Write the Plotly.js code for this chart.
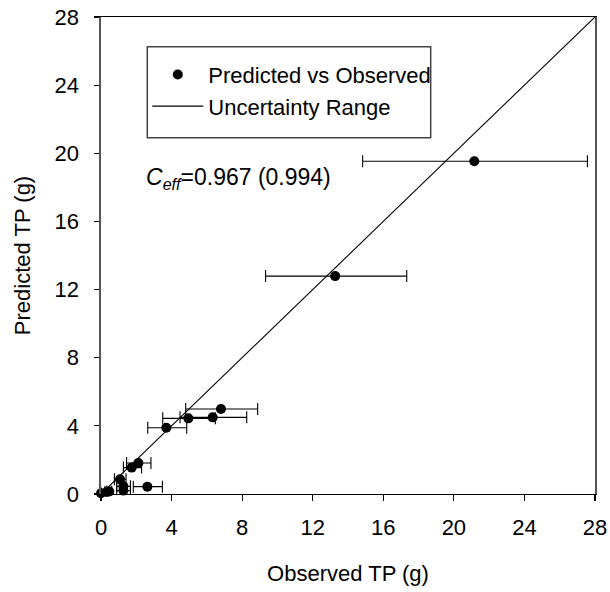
<!DOCTYPE html>
<html>
<head>
<meta charset="utf-8">
<script src="https://cdn.plot.ly/plotly-3.0.1.min.js"></script>
<style>html,body{margin:0;padding:0;background:#fff;}#chart{width:610px;height:592px;}</style>
</head>
<body>
<div id="chart"></div>
<script>
// Observed vs predicted total phosphorus (g)
const observedTP  = [21.16, 13.27, 6.80, 6.33, 4.95, 3.70, 2.12, 1.74, 1.08, 1.27, 1.27, 2.63, 0.00, 0.32, 0.47];
const predictedTP = [19.53, 12.79, 4.99, 4.50, 4.44, 3.89, 1.82, 1.55, 0.86, 0.45, 0.20, 0.43, 0.04, 0.12, 0.15];
// uncertainty range on observed TP (g)
const uncertaintyMinus = [6.33, 3.94, 2.00, 1.85, 1.45, 1.05, 0.67, 0.47, 0.32, 0.38, 0.38, 0.80, 0.00, 0.10, 0.14];
const uncertaintyPlus  = [6.41, 4.06, 2.08, 1.93, 1.53, 1.16, 0.71, 0.56, 0.34, 0.40, 0.40, 0.85, 0.00, 0.10, 0.14];
// 1:1 reference line end points
const oneToOne = [0, 28];
const tickVals = [0, 4, 8, 12, 16, 20, 24, 28];

const FONT = 'Liberation Sans, Arial, Helvetica, sans-serif';

const traces = [
  {
    x: oneToOne, y: oneToOne, type: 'scatter', mode: 'lines',
    line: {color: '#000', width: 1.1},
    showlegend: false, hoverinfo: 'skip', cliponaxis: true
  },
  {
    x: observedTP, y: predictedTP, type: 'scatter', mode: 'markers',
    name: 'Predicted vs Observed',
    marker: {color: '#000', size: 10, symbol: 'circle'},
    error_x: {type: 'data', symmetric: false, array: uncertaintyPlus, arrayminus: uncertaintyMinus,
              color: '#000', thickness: 1.1, width: 6},
    cliponaxis: false
  },
  {
    x: [null], y: [null], type: 'scatter', mode: 'lines',
    name: 'Uncertainty Range',
    line: {color: '#000', width: 1.1}
  }
];

const layout = {
  width: 610, height: 592,
  margin: {l: 101, r: 15, t: 17, b: 98, pad: 0},
  paper_bgcolor: '#fff', plot_bgcolor: '#fff',
  font: {family: FONT, size: 22, color: '#000'},
  showlegend: true,
  legend: {
    x: 0.0937, y: 0.923, xanchor: 'left', yanchor: 'top',
    borderwidth: 0, bgcolor: 'rgba(0,0,0,0)',
    font: {family: FONT, size: 22, color: '#000'},
    itemwidth: 51, tracegroupgap: 0
  },
  shapes: [{
    type: 'rect', xref: 'paper', yref: 'paper',
    x0: 0.0937, x1: 0.6674, y0: 0.747, y1: 0.9377,
    line: {color: '#444', width: 1.5}, fillcolor: 'rgba(0,0,0,0)', layer: 'above'
  }],
  xaxis: {
    range: [0, 28], tickvals: tickVals, ticktext: tickVals.map(String),
    showgrid: false, zeroline: false,
    showline: true, linecolor: '#000', linewidth: 1.3, mirror: true,
    ticks: 'outside', ticklen: 6, tickwidth: 1.2, tickcolor: '#000',
    ticklabelstandoff: 7,
    tickfont: {family: FONT, size: 22, color: '#000'},
    title: {text: 'Observed TP (g)', font: {family: FONT, size: 22, color: '#000'}, standoff: 27}
  },
  yaxis: {
    range: [0, 28], tickvals: tickVals, ticktext: tickVals.map(String),
    showgrid: false, zeroline: false,
    showline: true, linecolor: '#555', linewidth: 1.6, mirror: true,
    ticks: 'outside', ticklen: 5, tickwidth: 1.2, tickcolor: '#000',
    ticklabelstandoff: 11,
    tickfont: {family: FONT, size: 22, color: '#000'},
    title: {text: 'Predicted TP (g)', font: {family: FONT, size: 22, color: '#000'}, standoff: 18}
  },
  annotations: [{
    xref: 'paper', yref: 'paper', x: 0.087, y: 0.662, xanchor: 'left', yanchor: 'middle',
    text: '<i>C<sub>eff</sub></i>=0.967 (0.994)', showarrow: false,
    font: {family: FONT, size: 23, color: '#000'}
  }]
};

Plotly.newPlot('chart', traces, layout, {staticPlot: true, displayModeBar: false});
</script>
</body>
</html>
